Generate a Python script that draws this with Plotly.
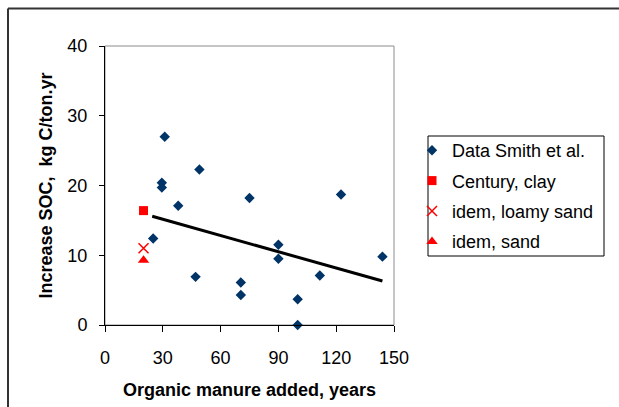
import plotly.graph_objects as go

# ---- data ----
smith_x = [31, 49, 29.5, 29.5, 38, 75, 122.5, 25, 90, 90, 144, 47, 70.5, 70.5, 111.5, 100, 100]
smith_y = [27.0, 22.3, 20.4, 19.7, 17.1, 18.2, 18.7, 12.4, 11.5, 9.5, 9.8, 6.9, 6.1, 4.3, 7.1, 3.7, 0.0]
century_clay_x = [20]
century_clay_y = [16.4]
loamy_sand_x = [20]
loamy_sand_y = [11.0]
sand_x = [20]
sand_y = [9.3]
trend_x = [24.5, 144]
trend_y = [15.6, 6.3]

x_ticks = [0, 30, 60, 90, 120, 150]
y_ticks = [0, 10, 20, 30, 40]

FONT = "Liberation Sans, Arial, sans-serif"

fig = go.Figure()
fig.add_trace(go.Scatter(x=trend_x, y=trend_y, mode="lines",
                         line=dict(color="black", width=3), showlegend=False,
                         hoverinfo="skip"))
fig.add_trace(go.Scatter(x=smith_x, y=smith_y, mode="markers", name="Data Smith et al.",
                         legendgroup="a",
                         marker=dict(symbol="diamond", size=8, color="#003366"),
                         cliponaxis=False))
fig.add_trace(go.Scatter(x=century_clay_x, y=century_clay_y, mode="markers", name="Century, clay",
                         legendgroup="b",
                         marker=dict(symbol="square", size=9, color="#ff0000"),
                         cliponaxis=False))
fig.add_trace(go.Scatter(x=loamy_sand_x, y=loamy_sand_y, mode="markers", name="idem, loamy sand",
                         legendgroup="c",
                         marker=dict(symbol="x-thin-open", size=10, color="#ff0000",
                                     line=dict(color="#ff0000", width=1.5)),
                         cliponaxis=False))
fig.add_trace(go.Scatter(x=sand_x, y=sand_y, mode="markers", name="idem, sand",
                         legendgroup="d",
                         marker=dict(symbol="triangle-up", size=10, color="#ff0000"),
                         cliponaxis=False))

W, H = 619, 407
L, R, T, B = 105, 225, 46, 82
pw, ph = W - L - R, H - T - B

def px_x(p):
    return (p - L) / pw

def px_y(p):
    return (H - B - p) / ph

shapes = [
    # gray plot-area frame (top/right)
    dict(type="rect", xref="paper", yref="paper", x0=0, x1=1, y0=0, y1=1,
         line=dict(color="#8c8c8c", width=1), layer="below"),
    # outer frame lines (top and left)
    dict(type="line", xref="paper", yref="paper", x0=px_x(8), x1=px_x(640),
         y0=px_y(8.5), y1=px_y(8.5), line=dict(color="#333333", width=2)),
    dict(type="line", xref="paper", yref="paper", x0=px_x(8), x1=px_x(8),
         y0=px_y(8.5), y1=px_y(420), line=dict(color="#333333", width=2)),
    # legend box
    dict(type="rect", xref="paper", yref="paper", x0=px_x(428), x1=px_x(604),
         y0=px_y(256), y1=px_y(136), line=dict(color="black", width=1),
         fillcolor="white", layer="below"),
]

fig.update_layout(
    width=W, height=H,
    margin=dict(l=L, r=R, t=T, b=B, autoexpand=False),
    paper_bgcolor="white", plot_bgcolor="white",
    font=dict(family=FONT, size=18, color="black"),
    shapes=shapes,
    legend=dict(x=px_x(412), y=px_y(132), xanchor="left", yanchor="top",
                bgcolor="rgba(0,0,0,0)", borderwidth=0,
                traceorder="grouped", tracegroupgap=4,
                font=dict(family=FONT, size=18, color="black")),
    xaxis=dict(range=[0, 150], tickvals=x_ticks, ticktext=[str(v) for v in x_ticks],
               showgrid=False, zeroline=False, showline=True, linecolor="black", linewidth=1,
               ticks="outside", ticklen=6, tickcolor="black",
               tickfont=dict(size=18), ticklabelstandoff=10,
               title=dict(text="<b>Organic manure added, years</b>",
                          font=dict(size=18), standoff=16)),
    yaxis=dict(range=[0, 40], tickvals=y_ticks, ticktext=[str(v) for v in y_ticks],
               showgrid=False, zeroline=False, showline=True, linecolor="black", linewidth=1,
               ticks="outside", ticklen=5, tickcolor="black",
               tickfont=dict(size=18), ticklabelstandoff=8,
               title=dict(text="<b>Increase SOC,&nbsp; kg C/ton.yr</b>",
                          font=dict(size=18), standoff=10)),
)

fig.write_html("out.html")
